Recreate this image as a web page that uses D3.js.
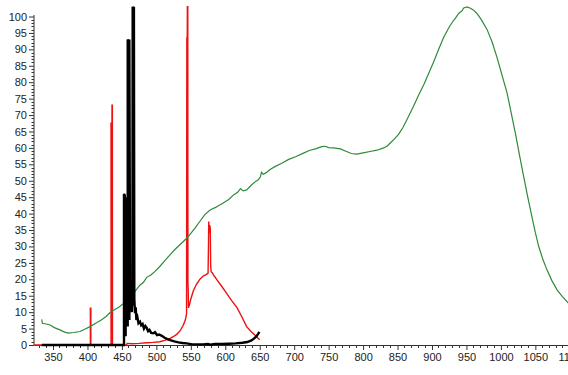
<!DOCTYPE html>
<html><head><meta charset="utf-8">
<script src="https://cdn.jsdelivr.net/npm/d3@7"></script>
<style>html,body{margin:0;padding:0;background:#fff;overflow:hidden}svg{display:block}</style>
</head><body>
<svg id="c" width="568" height="375"></svg>
<script>
// ---- data (wavelength nm, relative intensity %) ----
const xTicks = [350,400,450,500,550,600,650,700,750,800,850,900,950,1000,1050,1100];
const yTicks = [0,5,10,15,20,25,30,35,40,45,50,55,60,65,70,75,80,85,90,95,100];

const greenData = [
 [333.6,7.8],[334.5,6.6],[340,6.4],[345.6,6.1],[352,5.3],[360,4.6],[366,4.0],[372,3.6],[380,3.8],[389,4.1],[396,4.8],
 [403.7,5.6],[412,6.6],[420,7.6],[427,8.7],[432.8,9.9],[440,10.9],[445,11.4],[452,12.6],[457,13.3],[461.8,14.0],
 [466,15.6],[471.5,17.0],[476,18.2],[481,19.0],[486,20.6],[492,21.3],[498,22.4],[505,23.9],[512,25.6],[520,27.5],
 [528,29.3],[536,30.9],[544,32.5],[550,34.0],[556,35.6],[563,37.6],[570,39.6],[578,41.1],[586,41.9],[590,42.4],[597,43.2],
 [605,44.3],[612,45.7],[618,46.5],[622,47.6],[626,46.9],[631,47.2],[638,48.7],[644,49.8],[648,50.3],[651,51.2],[652.5,52.6],
 [655,52.0],[659,52.4],[665,53.4],[672,54.3],[682,55.3],[692,56.5],[702,57.3],[713.5,58.4],[722,59.2],[732,59.8],[740,60.4],
 [745,60.5],[750,60.1],[757,60.0],[767,59.7],[775,59.0],[783,58.3],[791,58.1],[800,58.5],[810,58.9],[820,59.3],
 [830,60.0],[835,60.6],[839,61.4],[846,62.8],[852,64.3],[858,66.3],[865,69.2],[873,72.6],[880,75.8],[888,79.2],[895,82.6],
 [902,86.0],[910,90.2],[917,93.7],[925,96.8],[930,98.4],[934,99.5],[937,100.4],[940,101.2],[943,101.6],[946,102.6],
 [951,102.9],[955,102.6],[960,102.0],[965,101.0],[972,98.9],[980,96.0],[987,92.4],[994,87.8],[1001,82.6],[1009,76.7],
 [1015,70.6],[1021,64.5],[1027,57.8],[1033,51.3],[1039,45.0],[1045,39.1],[1050,34.2],[1055,29.9],[1061,26.0],
 [1067,22.8],[1074,19.6],[1081.5,16.8],[1089,14.8],[1096,13.2],[1100,12.4]
];

const redData = [
 [322.4,0],[404.2,0],[404.2,11.2],[404.9,11.2],[404.9,0],
 [434.2,0],[434.2,67.5],[434.7,67.5],[434.9,5],[435.4,5],[435.6,73],[436.1,73],[436.3,0],
 [456.5,0],[457.5,0.5],[465,0.4],[475,0.5],[486,0.7],[495,0.8],[505,1.0],[512,1.4],[520,2.0],[525,2.6],[530,3.3],
 [535,4.5],[539,6.0],[542,7.6],[543.8,9.5],[544.2,93.5],[544.8,93.5],[545,103],[545.6,103],[545.8,19],[546.2,17],
 [546.6,11.3],[548,12.2],[550,14.0],[553.7,16.5],[558,18.4],[563.5,20.1],[568,21.0],[572,21.4],[575,21.8],
 [575.6,30],[576,37.6],[576.6,34],[577.4,36.5],[578.2,35.5],[578.8,24],[579.5,22.3],[581,22.0],[584,21.0],
 [588,19.8],[595,17.8],[602,15.7],[609,13.6],[617,11.4],[624,8.6],[631,5.6],[637,4.2],[641,3.4],[645,2.6],[648,2.0],[650,1.6]
];

const blackData = [
 [333.6,0],[453.0,0],[453.0,46],[454.2,45.5],[454.2,3],[455.4,3],[455.4,45],[456.4,12],
 [457.2,6],[458.4,6],[458.4,93],[459.6,92.5],[459.6,8],[460.8,8],[460.8,93],[461.8,16],
 [462.6,13],[463.6,17],[464.4,10],[465.3,20],[465.6,103],[466.6,102.5],[466.6,12],[467.4,103],[468.0,14],
 [469,9.7],[470,11.5],[471,7.6],[472.5,8.4],[474,6.6],[476.3,7.1],[478,6.0],[480,6.4],[482,5.0],[484,5.8],[486,5.2],
 [488,4.2],[490,4.6],[492.5,3.7],[495.7,3.6],[498,3.9],[501,3.0],[504,3.2],[507.9,2.8],[512,2.2],[516,1.8],[520,1.5],
 [526,1.1],[532,0.8],[538,0.6],[544,0.5],[552,0.2],[560,0.2],[568,0.2],[575,0.3],[578,0.1],[585,0.3],[595,0.3],
 [605,0.4],[615,0.5],[625,0.7],[632,0.9],[638,1.4],[642,2.0],[645,2.6],[647.5,3.3],[649.5,4.0]
];

// ---- chart ----
const svg = d3.select('#c');
const x = d3.scaleLinear().domain([322.4, 1100]).range([34, 569.8]);
const y = d3.scaleLinear().domain([0, 100]).range([345, 16.5]);

const line = d3.line().x(d => x(d[0])).y(d => y(d[1]));

const g = svg.append('g');

// minor ticks
const xMinor = d3.range(330, 1101, 10).filter(v => v % 50 !== 0);
g.selectAll('.xm').data(xMinor).join('line')
  .attr('x1', d => x(d)).attr('x2', d => x(d))
  .attr('y1', 345).attr('y2', 348).attr('stroke', '#333').attr('stroke-width', 1).attr('shape-rendering','crispEdges');
const yMinor = d3.range(0, 101, 1).filter(v => v % 5 !== 0);
g.selectAll('.ym').data(yMinor).join('line')
  .attr('x1', 31.5).attr('x2', 34)
  .attr('y1', d => Math.round(y(d))+0.5).attr('y2', d => Math.round(y(d))+0.5).attr('stroke', '#333').attr('stroke-width', 1);

// axes
const xAxis = d3.axisBottom(x).tickValues(xTicks).tickFormat(d3.format('d')).tickSize(5).tickSizeOuter(0).tickPadding(3);
const yAxis = d3.axisLeft(y).tickValues(yTicks).tickFormat(d3.format('d')).tickSize(5).tickSizeOuter(0).tickPadding(2);
const xa = svg.append('g').attr('transform', 'translate(0,345)').call(xAxis);
const ya = svg.append('g').attr('transform', 'translate(34,0)').call(yAxis);
[xa, ya].forEach(a => {
  a.select('.domain').attr('stroke', '#333');
  a.selectAll('.tick line').attr('stroke', '#333');
  a.selectAll('.tick text').attr('fill', '#222')
    .style('font-family', '"Liberation Sans", Arial, sans-serif').style('font-size', '11px');
});
ya.select('.domain').attr('d', `M0,${y(0)}V15`);

// series
svg.append('path').datum(redData).attr('d', line)
  .attr('fill', 'none').attr('stroke', '#ee1111').attr('stroke-width', 1.4).attr('stroke-linejoin','miter');
svg.append('path').datum(greenData).attr('d', line)
  .attr('fill', 'none').attr('stroke', '#2f8a3a').attr('stroke-width', 1.2);
svg.append('path').datum(blackData).attr('d', line)
  .attr('fill', 'none').attr('stroke', '#000').attr('stroke-width', 2.4).attr('stroke-linejoin','miter');
</script>
</body></html>
